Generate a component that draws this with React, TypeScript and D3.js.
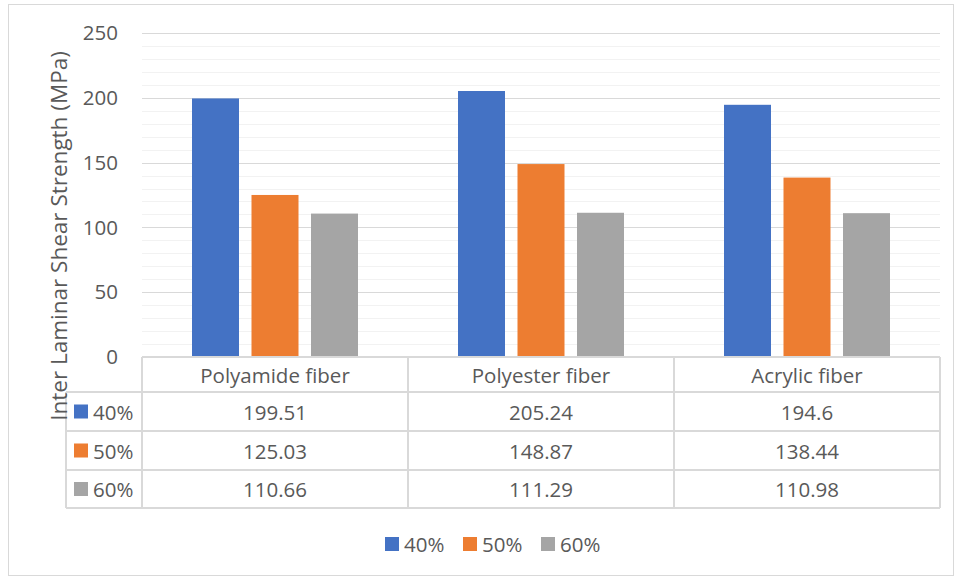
import React from "react";
import * as d3 from "d3";

const categories = ["Polyamide fiber", "Polyester fiber", "Acrylic fiber"];
const seriesNames = ["40%", "50%", "60%"];
const values40 = [199.51, 205.24, 194.6];
const values50 = [125.03, 148.87, 138.44];
const values60 = [110.66, 111.29, 110.98];
const valueLabels40 = ["199.51", "205.24", "194.6"];
const valueLabels50 = ["125.03", "148.87", "138.44"];
const valueLabels60 = ["110.66", "111.29", "110.98"];
const majorTicks = [0, 50, 100, 150, 200, 250];
const colors = ["#4472C4", "#ED7D31", "#A5A5A5"];
const yTitle = "Inter Laminar Shear Strength (MPa)";

export default function App() {
  const W = 954, H = 577;
  const plotL = 142, plotR = 940, plotT = 33, plotB = 357;
  const font = "'Open Sans', sans-serif";
  const textColor = "#595959";
  const fs = 20.5;
  const y = d3.scaleLinear().domain([0, 250]).range([plotB, plotT]);
  const x0 = d3.scaleBand().domain(categories).range([plotL, plotR]).padding(0);
  const bw = 47, step = 59.5;
  const allSeries = [values40, values50, values60];
  const allLabels = [valueLabels40, valueLabels50, valueLabels60];
  const minorTicks = d3.range(0, 251, 10).filter((v) => v % 50 !== 0);
  const rowTops = [357, 392, 431, 470, 508];
  const tableL = 66;

  return (
    <svg width={W} height={H} style={{ position: "absolute", left: 0, top: 0 }} fontFamily={font}>
      <rect x={0} y={0} width={W} height={H} fill="#fff" />
      <rect x={8.5} y={4.5} width={W - 9} height={H - 6} fill="#fff" stroke="#d9d9d9" strokeWidth={1} />
      {minorTicks.map((t) => (
        <line key={"m" + t} x1={plotL} x2={plotR} y1={Math.round(y(t)) + 0.5} y2={Math.round(y(t)) + 0.5} stroke="#f2f2f2" strokeWidth={1} />
      ))}
      {majorTicks.map((t) => (
        <line key={"M" + t} x1={plotL} x2={plotR} y1={Math.round(y(t)) + 0.5} y2={Math.round(y(t)) + 0.5} stroke="#d9d9d9" strokeWidth={1} />
      ))}
      {majorTicks.map((t) => (
        <text key={"t" + t} x={118} y={y(t)} dy="0.35em" textAnchor="end" fontSize={fs} fill={textColor}>
          {t}
        </text>
      ))}
      {categories.map((c, i) => {
        const cx = (x0(c) as number) + x0.bandwidth() / 2;
        return allSeries.map((s, j) => (
          <rect key={c + j} x={cx + (j - 1) * step - bw / 2} y={y(s[i])} width={bw} height={plotB - y(s[i])} fill={colors[j]} />
        ));
      })}
      {/* table */}
      <g stroke="#d9d9d9" strokeWidth={2} fill="none">
        <line x1={plotL} x2={plotR} y1={rowTops[0]} y2={rowTops[0]} />
        {rowTops.slice(1).map((r) => (
          <line key={"r" + r} x1={tableL} x2={plotR} y1={r} y2={r} />
        ))}
        <line x1={tableL} x2={tableL} y1={rowTops[1]} y2={rowTops[4]} />
        {[0, 1, 2, 3].map((k) => {
          const xx = plotL + k * x0.bandwidth();
          return <line key={"c" + k} x1={xx} x2={xx} y1={rowTops[0]} y2={rowTops[4]} />;
        })}
      </g>
      {categories.map((c) => (
        <text key={"h" + c} x={(x0(c) as number) + x0.bandwidth() / 2} y={(rowTops[0] + rowTops[1]) / 2 + 1} dy="0.35em" textAnchor="middle" fontSize={fs} fill={textColor}>
          {c}
        </text>
      ))}
      {seriesNames.map((n, j) => {
        const cy = (rowTops[j + 1] + rowTops[j + 2]) / 2;
        return (
          <g key={"row" + n}>
            <rect x={74} y={cy - 7} width={14} height={14} fill={colors[j]} />
            <text x={93} y={cy + 1} dy="0.35em" fontSize={fs} fill={textColor}>{n}</text>
            {categories.map((c, i) => (
              <text key={c} x={(x0(c) as number) + x0.bandwidth() / 2} y={cy + 1} dy="0.35em" textAnchor="middle" fontSize={fs} fill={textColor}>
                {allLabels[j][i]}
              </text>
            ))}
          </g>
        );
      })}
      <text transform={`translate(67,${236}) rotate(-90)`} textAnchor="middle" fontSize={22.5} fill={textColor}>
        {yTitle}
      </text>
      {/* legend */}
      {seriesNames.map((n, j) => {
        const lx = 385 + j * 78;
        return (
          <g key={"lg" + n}>
            <rect x={lx} y={537} width={14} height={14} fill={colors[j]} />
            <text x={lx + 19} y={545} dy="0.35em" fontSize={fs} fill={textColor}>{n}</text>
          </g>
        );
      })}
    </svg>
  );
}
